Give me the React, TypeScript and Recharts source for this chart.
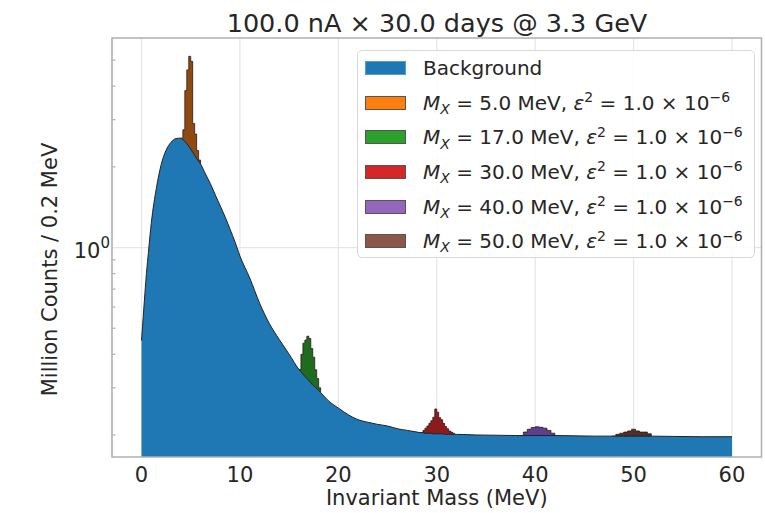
import React from "react";
import {
  ComposedChart,
  Area,
  XAxis,
  YAxis,
  CartesianGrid,
  Legend,
  ReferenceArea,
} from "recharts";

document.body.style.margin = "0";

const FONT = '"DejaVu Sans", sans-serif';
const INK = "#262626";
const SPINE = "#b0b0b0";
const GRID = "#e6e6e6";

const massDomain: [number, number] = [-3, 63];
const countDomain: [number, number] = [0.1655, 6.05];
const massTicks = [0, 10, 20, 30, 40, 50, 60];
const countTicks = [0.2, 0.3, 0.4, 0.5, 0.6, 0.7, 0.8, 0.9, 1, 2, 3, 4, 5];

// [mass (MeV), million counts per 0.2 MeV]
const background: [number, number][] = [
  [0, 0.45], [0.2, 0.57], [0.5, 0.8], [0.7, 0.96], [1, 1.24], [1.5, 1.66], [2, 2.04],
  [2.5, 2.31], [3, 2.47], [3.5, 2.55], [4, 2.56], [4.2, 2.53], [4.4, 2.49], [4.6, 2.44],
  [4.8, 2.39], [5, 2.33], [5.2, 2.27], [5.4, 2.21], [5.6, 2.15], [5.8, 2.1], [6, 2.05],
  [6.5, 1.88], [7, 1.73], [7.5, 1.57], [8, 1.43], [8.5, 1.3], [9, 1.17], [9.5, 1.05],
  [10, 0.93], [11, 0.77], [12, 0.62], [13, 0.52], [14, 0.454], [15, 0.4], [16, 0.351],
  [16.2, 0.344], [16.4, 0.337], [16.6, 0.331], [16.8, 0.325], [17, 0.319], [17.2, 0.313],
  [17.4, 0.307], [17.6, 0.303], [17.8, 0.298], [18, 0.293], [18.2, 0.288], [19, 0.268],
  [20, 0.252], [21, 0.238], [22, 0.228], [23, 0.223], [24, 0.219], [25, 0.216], [26, 0.211],
  [27, 0.208], [28, 0.205], [28.4, 0.204], [28.6, 0.204], [28.8, 0.203], [29, 0.203],
  [29.2, 0.203], [29.4, 0.203], [29.6, 0.202], [29.8, 0.202], [30, 0.202], [30.2, 0.202],
  [30.4, 0.202], [30.6, 0.202], [30.8, 0.201], [31, 0.201], [31.2, 0.201], [31.4, 0.201],
  [31.6, 0.201], [31.8, 0.201], [32, 0.201], [34, 0.2], [36, 0.1995], [38, 0.199],
  [38.4, 0.199], [38.8, 0.199], [39.2, 0.199], [39.6, 0.199], [40, 0.199], [40.4, 0.199],
  [40.8, 0.199], [41.2, 0.199], [41.6, 0.199], [42, 0.199], [44, 0.1985], [46, 0.198],
  [47.8, 0.198], [48.2, 0.198], [48.6, 0.198], [49, 0.198], [49.4, 0.198], [49.8, 0.198],
  [50.2, 0.198], [50.6, 0.198], [51, 0.198], [51.4, 0.198], [51.8, 0.198], [54, 0.1975],
  [57, 0.197], [60, 0.197],
];

// background + signal, per 0.2 MeV bin
const signal5: [number, number][] = [
  [4, 2.56], [4.2, 2.75], [4.4, 3.85], [4.6, 4.6], [4.8, 5.17], [5, 4.95], [5.2, 2.9],
  [5.4, 2.65], [5.6, 2.3], [5.8, 2.12], [6, 2.05],
];
const signal17: [number, number][] = [
  [16, 0.351], [16.2, 0.4], [16.4, 0.44], [16.6, 0.452], [16.8, 0.467], [17, 0.458],
  [17.2, 0.42], [17.4, 0.39], [17.6, 0.35], [17.8, 0.325], [18, 0.3], [18.2, 0.288],
];
const signal30: [number, number][] = [
  [28.4, 0.204], [28.6, 0.208], [28.8, 0.212], [29, 0.216], [29.2, 0.221], [29.4, 0.226],
  [29.6, 0.233], [29.8, 0.25], [30, 0.243], [30.2, 0.232], [30.4, 0.228], [30.6, 0.221],
  [30.8, 0.215], [31, 0.211], [31.2, 0.207], [31.4, 0.205], [31.6, 0.203], [31.8, 0.201],
];
const signal40: [number, number][] = [
  [38.4, 0.199], [38.8, 0.205], [39.2, 0.21], [39.6, 0.213], [40, 0.2145], [40.4, 0.2135],
  [40.8, 0.212], [41.2, 0.208], [41.6, 0.203], [42, 0.199],
];
const signal50: [number, number][] = [
  [47.8, 0.198], [48.2, 0.201], [48.6, 0.203], [49, 0.205], [49.4, 0.207], [49.8, 0.21],
  [50.2, 0.207], [50.6, 0.205], [51, 0.205], [51.4, 0.202], [51.8, 0.198],
];

const signalMasses = ["5.0", "17.0", "30.0", "40.0", "50.0"];
const signalKeys = ["mx5", "mx17", "mx30", "mx40", "mx50"];
const swatchColors = ["#1f77b4", "#ff7f0e", "#2ca02c", "#d62728", "#9467bd", "#8c564b"];
const peakFills = ["#8f4a12", "#1f6b1f", "#8e1b1b", "#5e3f8c", "#4f302b"];

const signalMaps = [signal5, signal17, signal30, signal40, signal50].map((s) => new Map(s));

const data = background.map(([mass, bg]) => {
  const row: Record<string, number | null> = { mass, background: bg };
  signalMaps.forEach((m, i) => {
    row[signalKeys[i]] = m.has(mass) ? (m.get(mass) as number) : null;
  });
  return row;
});

const supStyle: React.CSSProperties = { fontSize: "0.7em", position: "relative", top: "-0.55em" };
const subStyle: React.CSSProperties = {
  fontSize: "0.7em",
  fontStyle: "italic",
  position: "relative",
  top: "0.3em",
};

const SignalLabel = ({ mass }: { mass: string }) => (
  <span style={{ whiteSpace: "nowrap" }}>
    <i>M</i>
    <span style={subStyle}>X</span> = {mass} MeV, <i>ε</i>
    <span style={supStyle}>2</span> = 1.0 × 10
    <span style={supStyle}>−6</span>
  </span>
);

const LegendBox = () => (
  <div
    style={{
      width: 398,
      height: 208,
      boxSizing: "border-box",
      border: "1px solid #d8d8d8",
      borderRadius: 5,
      background: "rgba(255,255,255,0.85)",
      fontFamily: FONT,
      fontSize: 20,
      color: INK,
    }}
  >
    {["Background", ...signalMasses].map((label, i) => (
      <div key={label} style={{ display: "flex", alignItems: "center", height: 34.6 }}>
        <div
          style={{
            marginLeft: 7,
            width: 41,
            height: 14,
            boxSizing: "border-box",
            background: swatchColors[i],
            border: `1px solid ${i === 0 ? "#5a9ed0" : "#555"}`,
          }}
        />
        <div style={{ marginLeft: 17 }}>{i === 0 ? label : <SignalLabel mass={label} />}</div>
      </div>
    ))}
  </div>
);

const MassTick = ({ x, y, payload }: any) => (
  <text x={x} y={y + 25} textAnchor="middle" fontFamily={FONT} fontSize={21} fill={INK}>
    {payload.value}
  </text>
);

const CountTick = ({ x, y, payload }: any) => {
  if (payload.value === 1) {
    return (
      <text x={x - 2} y={y + 10} textAnchor="end" fontFamily={FONT} fontSize={21} fill={INK}>
        10
        <tspan dy={-10} fontSize={15}>
          0
        </tspan>
      </text>
    );
  }
  return <line x1={x - 1} x2={x + 3.5} y1={y} y2={y} stroke={SPINE} strokeWidth={1.2} />;
};

export default function App() {
  return (
    <div style={{ position: "relative", width: 765, height: 513, background: "#fff" }}>
      <div
        style={{
          position: "absolute",
          left: 112,
          width: 650,
          top: 11,
          textAlign: "center",
          fontFamily: FONT,
          fontSize: 25.5,
          lineHeight: 1,
          color: INK,
          whiteSpace: "nowrap",
        }}
      >
        100.0 nA × 30.0 days @ 3.3 GeV
      </div>
      <ComposedChart
        width={765}
        height={513}
        data={data}
        margin={{ top: 38, right: 3.5, bottom: 0, left: 42 }}
      >
        <CartesianGrid stroke={GRID} strokeWidth={1.2} horizontalValues={[1]} />
        <XAxis
          dataKey="mass"
          type="number"
          domain={massDomain}
          allowDataOverflow
          ticks={massTicks}
          interval={0}
          height={56}
          tickSize={0}
          tickMargin={0}
          tickLine={false}
          axisLine={false}
          tick={(p: any) => <MassTick {...p} />}
          label={{
            content: ({ viewBox }: any) => (
              <text
                x={viewBox.x + viewBox.width / 2}
                y={viewBox.y + 48}
                textAnchor="middle"
                fontFamily={FONT}
                fontSize={21}
                fill={INK}
              >
                Invariant Mass (MeV)
              </text>
            ),
          }}
        />
        <YAxis
          type="number"
          scale="log"
          domain={countDomain}
          allowDataOverflow
          ticks={countTicks}
          interval={0}
          width={70}
          tickSize={0}
          tickMargin={0}
          tickLine={false}
          axisLine={false}
          tick={(p: any) => <CountTick {...p} />}
          label={{
            content: ({ viewBox }: any) => {
              const cx = viewBox.x + 8;
              const cy = viewBox.y + viewBox.height / 2 + 22;
              return (
                <text
                  x={cx}
                  y={cy}
                  transform={`rotate(-90 ${cx} ${cy})`}
                  textAnchor="middle"
                  dominantBaseline="central"
                  fontFamily={FONT}
                  fontSize={21}
                  fill={INK}
                >
                  Million Counts / 0.2 MeV
                </text>
              );
            },
          }}
        />
        {signalKeys.map((key, i) => (
          <Area
            key={key}
            dataKey={key}
            type="stepAfter"
            fill={peakFills[i]}
            fillOpacity={1}
            stroke="#2a1a10"
            strokeWidth={0.8}
            connectNulls={false}
            dot={false}
            activeDot={false}
            isAnimationActive={false}
          />
        ))}
        <Area
          dataKey="background"
          type="monotone"
          fill="#1f77b4"
          fillOpacity={1}
          stroke="#222"
          strokeWidth={1}
          dot={false}
          activeDot={false}
          isAnimationActive={false}
        />
        <ReferenceArea
          x1={massDomain[0]}
          x2={massDomain[1]}
          y1={countDomain[0]}
          y2={countDomain[1]}
          ifOverflow="visible"
          fill="none"
          stroke={SPINE}
          strokeWidth={1.5}
        />
        <Legend
          layout="vertical"
          align="center"
          verticalAlign="middle"
          content={() => <LegendBox />}
          wrapperStyle={{ left: 357, top: 50, width: 398, height: 208 }}
        />
      </ComposedChart>
    </div>
  );
}
